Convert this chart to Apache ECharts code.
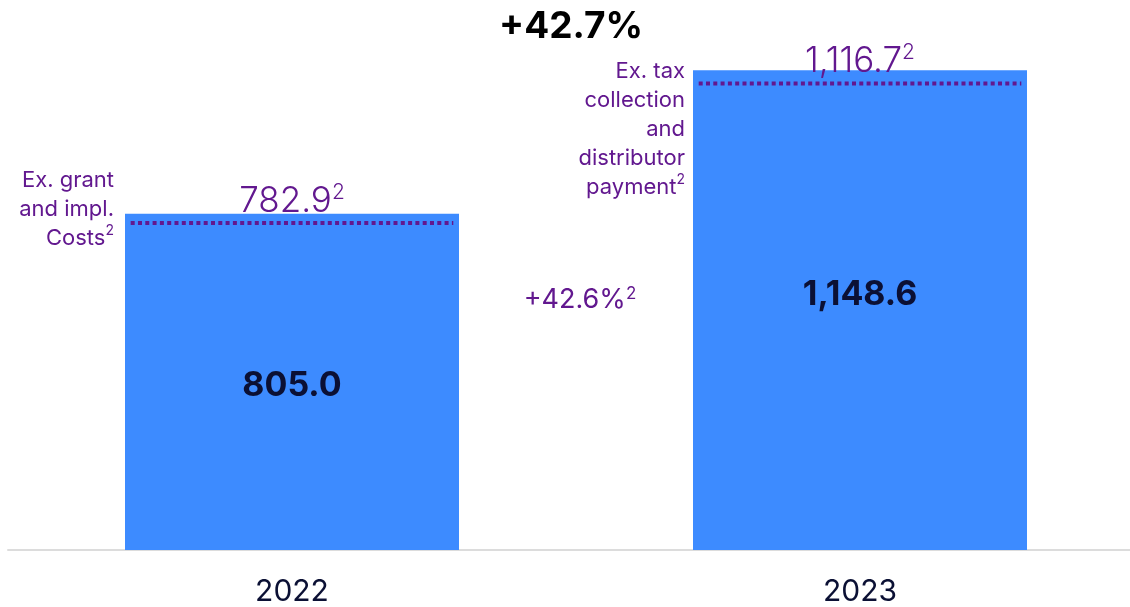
<!DOCTYPE html>
<html>
<head>
<meta charset="utf-8">
<script src="https://cdn.jsdelivr.net/npm/echarts@6/dist/echarts.min.js"></script>
<style>
  html, body { margin: 0; padding: 0; background: #ffffff; }
  #chart { width: 1130px; height: 607px; }
</style>
</head>
<body>
<div id="chart"></div>
<script>
// Revenue by year, with the adjusted figure shown as a dotted line inside each bar
const years = ['2022', '2023'];
const revenue = [805.0, 1148.6];
const adjusted = [782.9, 1116.7];
const adjustedNotes = [
  ['Ex. grant', 'and impl.', 'Costs'],
  ['Ex. tax', 'collection', 'and', 'distributor', 'payment']
];
const totalGrowth = '+42.7%';
const adjustedGrowth = '+42.6%';

const BAR = '#3d8bff';
const PURPLE = '#62188f';
const NAVY = '#0b1034';
const FONT = 'Inter, "Liberation Sans", Arial, sans-serif';

const fmt = v => v.toLocaleString('en-US', { minimumFractionDigits: 1, maximumFractionDigits: 1 });

const chart = echarts.init(document.getElementById('chart'));

// annotation text blocks, right-aligned, last line carries superscript 2
function noteText(lines) {
  return lines.map((l, i) => i === lines.length - 1 ? '{t|' + l + '}{s|2}' : '{t|' + l + '}').join('\n');
}
const noteRich = {
  t: { fontSize: 22, fill: PURPLE, fontFamily: FONT, lineHeight: 29 },
  s: { fontSize: 14, fill: PURPLE, fontFamily: FONT, lineHeight: 29, verticalAlign: 'top', padding: [0, 0, 10, 0] }
};

chart.setOption({
  animation: false,
  grid: { left: 8, width: 1136, top: 7, bottom: 57, outerBoundsMode: 'none' },
  xAxis: {
    type: 'category',
    data: years,
    axisLine: { lineStyle: { color: '#dcdcdc', width: 2 } },
    axisTick: { show: false },
    axisLabel: {
      margin: 27,
      fontSize: 30,
      color: NAVY,
      fontFamily: FONT
    }
  },
  yAxis: {
    type: 'value',
    min: 0,
    max: 1300,
    show: false,
    splitLine: { show: false }
  },
  series: [
    {
      type: 'bar',
      barWidth: 334,
      itemStyle: { color: BAR },
      data: revenue.map((v, i) => ({
        value: v,
        label: { offset: [0, i === 0 ? 4 : -15] }
      })),
      label: {
        show: true,
        position: 'inside',
        formatter: p => fmt(p.value),
        fontSize: 34,
        fontWeight: 'bold',
        color: NAVY,
        fontFamily: FONT
      },
      z: 1
    },
    {
      type: 'custom',
      data: adjusted.map((v, i) => [i, v]),
      z: 5,
      renderItem(params, api) {
        const c = api.coord([api.value(0), api.value(1)]);
        const band = api.size([1, 0])[0];
        const half = band * 0.284;
        return {
          type: 'group',
          children: [
            {
              type: 'line',
              shape: { x1: c[0] - half, y1: c[1], x2: c[0] + half, y2: c[1] },
              style: { stroke: PURPLE, lineWidth: 4, lineDash: [4, 3.3] }
            },
            {
              type: 'text',
              x: c[0],
              y: c[1] - 3,
              style: {
                text: '{v|' + fmt(api.value(1)) + '}{s|2}',
                align: 'center',
                verticalAlign: 'bottom',
                rich: {
                  v: { fontSize: 35, fontWeight: 300, fill: PURPLE, fontFamily: FONT, lineHeight: 38 },
                  s: { fontSize: 21, fontWeight: 300, fill: PURPLE, fontFamily: FONT, lineHeight: 38, verticalAlign: 'top', padding: [0, 0, 14, 0] }
                }
              }
            }
          ]
        };
      }
    }
  ],
  graphic: [
    {
      type: 'text',
      x: 571, y: 27,
      style: {
        text: totalGrowth,
        align: 'center', verticalAlign: 'middle',
        fontSize: 37, fontWeight: 'bold', fill: '#000000', fontFamily: FONT
      }
    },
    {
      type: 'text',
      x: 580, y: 300,
      style: {
        text: '{v|' + adjustedGrowth + '}{s|2}',
        align: 'center', verticalAlign: 'middle',
        rich: {
          v: { fontSize: 27, fill: PURPLE, fontFamily: FONT, lineHeight: 30 },
          s: { fontSize: 17, fill: PURPLE, fontFamily: FONT, lineHeight: 30, verticalAlign: 'top', padding: [0, 0, 10, 0] }
        }
      }
    },
    {
      type: 'text',
      x: 114, y: 166,
      style: { text: noteText(adjustedNotes[0]), align: 'right', verticalAlign: 'top', rich: noteRich }
    },
    {
      type: 'text',
      x: 685, y: 57,
      style: { text: noteText(adjustedNotes[1]), align: 'right', verticalAlign: 'top', rich: noteRich }
    }
  ]
});
</script>
</body>
</html>
